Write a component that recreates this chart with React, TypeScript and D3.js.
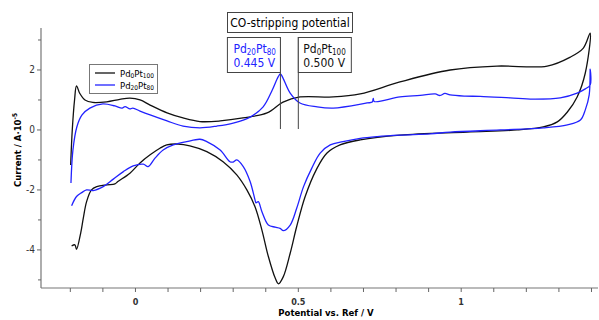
import * as d3 from "d3"

// cyclic voltammograms, [potential V, current A·10^-5], anodic then cathodic sweep
const pt100Curve: [number, number][] = [
  [-0.199, -1.17], [-0.194, 0.0], [-0.187, 1.0], [-0.181, 1.47], [-0.171, 1.22], [-0.155, 1.0],
  [-0.131, 0.92], [-0.088, 0.94], [-0.048, 1.02], [-0.017, 1.06], [0.014, 1.0], [0.045, 0.83],
  [0.097, 0.57], [0.146, 0.4], [0.198, 0.28], [0.26, 0.3], [0.33, 0.4], [0.404, 0.57],
  [0.453, 0.93], [0.505, 1.1], [0.607, 1.1], [0.69, 1.2], [0.812, 1.6], [0.966, 2.0],
  [1.11, 2.13], [1.264, 2.13], [1.335, 2.43], [1.375, 2.73], [1.396, 3.23],
  [1.381, 1.9], [1.356, 1.1], [1.326, 0.6], [1.295, 0.27], [1.252, 0.1], [1.172, 0.0],
  [1.018, -0.07], [0.812, -0.17], [0.69, -0.33], [0.628, -0.5], [0.588, -0.77], [0.555, -1.33],
  [0.521, -2.22], [0.495, -3.22], [0.475, -4.11], [0.454, -4.89], [0.439, -5.13], [0.429, -4.94],
  [0.408, -4.22], [0.388, -3.33], [0.367, -2.56], [0.342, -2.0], [0.311, -1.5], [0.269, -1.06],
  [0.219, -0.72], [0.167, -0.53], [0.131, -0.47], [0.096, -0.5], [0.075, -0.61], [0.045, -0.83],
  [0.014, -1.1], [-0.017, -1.44], [-0.054, -1.72], [-0.063, -1.8], [-0.088, -1.83], [-0.119, -1.89],
  [-0.135, -2.0], [-0.15, -2.39], [-0.16, -2.93], [-0.168, -3.43], [-0.181, -3.98], [-0.186, -3.83],
  [-0.196, -3.87],
]

const pt80Curve: [number, number][] = [
  [-0.198, -1.77], [-0.192, -0.67], [-0.18, 0.1], [-0.164, 0.5], [-0.14, 0.73], [-0.1, 0.87],
  [-0.063, 0.8], [-0.041, 0.73], [-0.032, 0.78], [-0.017, 0.7], [-0.008, 0.73], [0.014, 0.63],
  [0.045, 0.5], [0.097, 0.3], [0.146, 0.13], [0.198, 0.07], [0.25, 0.13], [0.3, 0.23],
  [0.352, 0.43], [0.392, 0.77], [0.42, 1.33], [0.438, 1.77], [0.445, 1.87], [0.453, 1.73],
  [0.475, 1.23], [0.505, 0.9], [0.558, 0.77], [0.607, 0.73], [0.711, 0.9], [0.727, 0.93],
  [0.73, 1.05], [0.733, 0.95], [0.812, 1.1], [0.874, 1.15], [0.92, 1.2], [0.935, 1.15],
  [0.95, 1.22], [0.966, 1.17], [1.012, 1.13], [1.058, 1.12], [1.15, 1.07], [1.221, 1.03],
  [1.304, 1.07], [1.356, 1.23], [1.381, 1.37], [1.396, 1.5], [1.396, 2.03],
  [1.393, 1.17], [1.381, 0.67], [1.366, 0.33], [1.326, 0.17], [1.252, 0.07], [1.12, 0.0],
  [0.966, -0.07], [0.905, -0.13], [0.812, -0.17], [0.742, -0.22], [0.69, -0.28], [0.637, -0.39],
  [0.598, -0.5], [0.567, -0.77], [0.541, -1.28], [0.516, -1.89], [0.495, -2.61], [0.475, -3.17],
  [0.454, -3.36], [0.444, -3.28], [0.429, -3.24], [0.408, -3.17], [0.388, -2.72], [0.377, -2.39],
  [0.37, -2.43], [0.367, -2.33], [0.352, -1.72], [0.331, -1.22], [0.311, -1.0], [0.3, -1.07],
  [0.29, -1.06], [0.26, -0.67], [0.219, -0.39], [0.198, -0.31], [0.157, -0.39], [0.116, -0.5],
  [0.085, -0.67], [0.06, -0.94], [0.039, -1.22], [0.024, -1.14], [-0.007, -1.2], [-0.037, -1.39],
  [-0.068, -1.64], [-0.099, -1.89], [-0.13, -2.02], [-0.15, -2.0], [-0.165, -2.09], [-0.181, -2.22],
  [-0.196, -2.53],
]

const xTickValues = [-0.2, -0.1, 0, 0.1, 0.2, 0.3, 0.4, 0.5, 0.6, 0.7, 0.8, 0.9, 1, 1.1, 1.2, 1.3, 1.4]
const xTickLabels = [0, 0.5, 1]
const yTickValues = [-5, -4, -3, -2, -1, 0, 1, 2, 3]
const yTickLabels = [-4, -2, 0, 2]
const peakPotentials = [0.445, 0.5]

const W = 599
const H = 320
const FONT = "'DejaVu Sans Condensed', 'DejaVu Sans', sans-serif"
const BLUE = "#2222ff"

export default function App() {
  const x = d3.scaleLinear().domain([-0.29, 1.42]).range([41, 598])
  const y = d3.scaleLinear().domain([-5.27, 3.4]).range([288, 28])

  const line = d3.line<[number, number]>()
    .x(d => x(d[0]))
    .y(d => y(d[1]))
    .curve(d3.curveCatmullRom.alpha(0.5))

  const fmt = (v: number) => (v < 0 ? "-" + Math.abs(v) : String(v))

  return (
    <svg width={W} height={H} style={{ position: "absolute", left: 0, top: 0, background: "#fff" }}
      fontFamily={FONT}>
      {/* axes */}
      <line x1={x.range()[0]} x2={x.range()[0]} y1={y.range()[1]} y2={y.range()[0]} stroke="#777" strokeWidth={1.2} />
      <line x1={x.range()[0]} x2={x.range()[1]} y1={y.range()[0]} y2={y.range()[0]} stroke="#777" strokeWidth={1.2} />
      {xTickValues.map(v => (
        <line key={"xt" + v} x1={x(v)} x2={x(v)} y1={y.range()[0]} y2={y.range()[0] + 4} stroke="#666" />
      ))}
      {xTickLabels.map(v => (
        <text key={"xl" + v} x={x(v)} y={305} textAnchor="middle" fontSize={9} fontWeight="bold" fill="#333">{v}</text>
      ))}
      {yTickValues.map(v => (
        <line key={"yt" + v} x1={x.range()[0] - (v % 2 === 0 ? 4 : 3)} x2={x.range()[0]} y1={y(v)} y2={y(v)} stroke="#666" />
      ))}
      {yTickLabels.map(v => (
        <text key={"yl" + v} x={35} y={y(v) + 3.5} textAnchor="end" fontSize={10} fill="#333">{fmt(v)}</text>
      ))}
      <text x={326} y={316} textAnchor="middle" fontSize={9.5} fontWeight="bold">Potential vs. Ref / V</text>
      <text transform="translate(21,150) rotate(-90)" textAnchor="middle" fontSize={9.5} fontWeight="bold">
        Current / A·10<tspan dy={-4} fontSize={6.5}>-5</tspan>
      </text>

      {/* curves */}
      <path d={line(pt100Curve) ?? ""} fill="none" stroke="#111" strokeWidth={1.3} />
      <path d={line(pt80Curve) ?? ""} fill="none" stroke={BLUE} strokeWidth={1.3} />

      {/* peak markers */}
      {peakPotentials.map(v => (
        <line key={"pk" + v} x1={x(v)} x2={x(v)} y1={37} y2={129} stroke="#444" strokeWidth={1} />
      ))}

      {/* annotation boxes */}
      <rect x={227.5} y={12.5} width={125} height={20} fill="#fff" stroke="#444" />
      <text x={290} y={27} textAnchor="middle" fontSize={12}>CO-stripping potential</text>

      <rect x={x(0.445) - 53} y={37.5} width={53} height={35} fill="#fff" stroke="#444" />
      <text x={x(0.445) - 47} y={53} fontSize={12} fill={BLUE}>
        Pd<tspan fontSize={8} dy={2}>20</tspan><tspan dy={-2}>Pt</tspan><tspan fontSize={8} dy={2}>80</tspan>
      </text>
      <text x={x(0.445) - 47} y={67} fontSize={12} fill={BLUE}>0.445 V</text>

      <rect x={x(0.5)} y={37.5} width={53} height={35} fill="#fff" stroke="#444" />
      <text x={x(0.5) + 5} y={53} fontSize={12} fill="#111">
        Pd<tspan fontSize={8} dy={2}>0</tspan><tspan dy={-2}>Pt</tspan><tspan fontSize={8} dy={2}>100</tspan>
      </text>
      <text x={x(0.5) + 5} y={67} fontSize={12} fill="#111">0.500 V</text>

      {/* legend */}
      <rect x={89.5} y={64.5} width={68} height={29} fill="#fff" stroke="#777" />
      <line x1={95} x2={115} y1={73} y2={73} stroke="#111" strokeWidth={1.3} />
      <line x1={95} x2={115} y1={85} y2={85} stroke={BLUE} strokeWidth={1.3} />
      <text x={120} y={76.5} fontSize={9.5}>
        Pd<tspan fontSize={6.5} dy={1.5}>0</tspan><tspan dy={-1.5}>Pt</tspan><tspan fontSize={6.5} dy={1.5}>100</tspan>
      </text>
      <text x={120} y={88.5} fontSize={9.5}>
        Pd<tspan fontSize={6.5} dy={1.5}>20</tspan><tspan dy={-1.5}>Pt</tspan><tspan fontSize={6.5} dy={1.5}>80</tspan>
      </text>
    </svg>
  )
}
